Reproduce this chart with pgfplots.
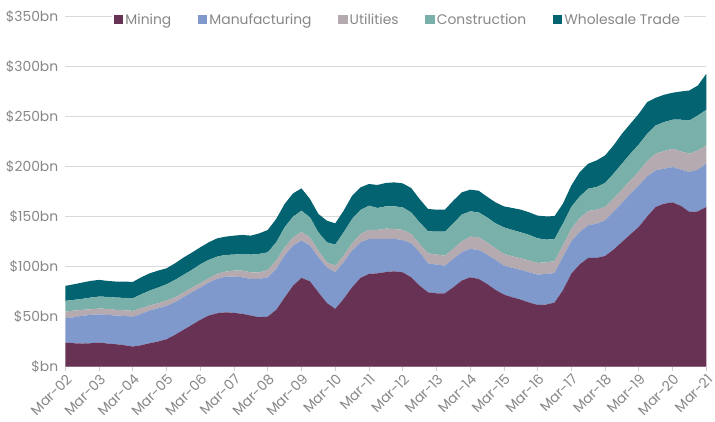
\documentclass[border=0pt]{standalone}
\usepackage{fontspec}
\setmainfont{Poppins}
\usepackage{pgfplots}
\usepackage{pgfplotstable}
\pgfplotsset{compat=1.18}

\definecolor{cMining}{RGB}{103,50,84}
\definecolor{cManuf}{RGB}{127,153,204}
\definecolor{cUtil}{RGB}{180,170,176}
\definecolor{cConstr}{RGB}{122,176,170}
\definecolor{cWhole}{RGB}{3,99,112}
\definecolor{txtgray}{RGB}{135,135,135}
\definecolor{gridgray}{RGB}{217,217,217}

% quarterly, q=0 is Mar-02, values in $bn
\pgfplotstableread{
q mining mfg util con ws
0 24.0 24.3 6.7 10.7 15.0
1 23.3 26.0 6.7 10.7 15.6
2 23.0 27.7 6.0 11.0 16.3
3 23.3 28.4 5.6 11.7 16.7
4 24.0 28.3 5.7 12.0 16.7
5 23.0 28.7 6.0 12.0 16.0
6 22.3 28.7 5.7 12.3 16.0
7 21.3 29.4 5.6 12.4 16.3
8 20.0 29.7 6.0 12.6 16.4
9 21.3 31.4 5.6 14.0 17.0
10 23.3 32.7 5.0 15.0 17.3
11 25.0 33.3 5.0 15.7 17.0
12 27.3 33.4 5.3 16.3 16.0
13 31.7 32.6 5.0 17.4 16.6
14 36.7 32.6 4.7 17.7 17.3
15 41.7 32.6 4.7 17.7 17.3
16 46.7 32.3 4.3 19.0 17.0
17 51.0 33.0 4.3 18.4 17.6
18 53.3 34.4 5.0 17.3 18.3
19 54.3 35.7 5.0 16.7 18.3
20 53.7 36.3 6.0 16.0 19.0
21 52.7 36.6 6.7 16.7 19.0
22 51.0 36.7 6.6 17.7 19.0
23 49.3 38.4 6.6 18.4 20.6
24 50.0 39.3 7.4 17.6 22.4
25 56.7 41.0 8.3 18.3 23.4
26 69.0 42.0 8.3 20.0 23.4
27 81.0 40.0 8.3 20.7 23.3
28 88.7 37.3 8.7 21.3 22.3
29 85.3 35.7 8.3 20.0 18.4
30 74.3 35.0 6.7 18.3 18.4
31 63.7 35.6 5.0 20.0 21.7
32 57.7 36.6 6.7 21.0 21.3
33 67.7 36.6 6.7 23.3 21.7
34 79.3 36.7 7.3 24.4 23.3
35 88.7 35.6 8.4 24.0 22.6
36 92.7 35.0 9.0 24.3 21.7
37 93.3 34.4 9.0 22.0 23.0
38 94.5 33.2 10.3 22.3 23.4
39 95.3 32.4 10.0 22.6 24.0
40 94.3 32.4 10.0 22.6 24.0
41 89.3 34.0 9.4 21.6 24.4
42 81.0 33.3 8.4 21.6 23.4
43 74.3 29.0 10.0 22.0 22.4
44 73.3 28.7 10.0 23.0 22.0
45 73.3 27.7 10.0 24.0 22.0
46 79.3 28.4 10.0 25.6 22.7
47 86.0 28.3 11.0 26.7 22.3
48 89.3 28.4 12.3 25.3 21.7
49 87.7 29.0 12.6 25.0 21.7
50 82.7 29.3 12.3 25.0 20.7
51 76.7 30.0 11.6 25.0 21.0
52 72.0 29.0 11.7 26.6 21.0
53 69.3 29.4 11.6 26.4 22.0
54 67.0 29.7 11.6 26.0 22.7
55 64.0 30.3 11.7 25.7 22.6
56 61.7 30.3 11.7 24.6 22.7
57 62.0 30.7 11.6 22.7 23.3
58 64.0 29.5 12.0 22.0 23.0
59 76.3 33.4 11.6 21.7 20.0
60 93.0 32.3 12.7 21.7 21.6
61 102.3 32.4 14.0 21.6 24.4
62 108.7 32.6 14.4 22.3 25.0
63 108.7 34.3 14.0 22.7 26.6
64 110.7 35.6 13.4 24.0 27.6
65 117.0 37.7 13.3 25.0 28.3
66 124.7 39.0 13.3 26.0 30.0
67 132.3 40.7 13.3 26.7 30.0
68 139.7 41.6 14.0 27.0 30.7
69 150.3 40.0 15.4 27.3 31.7
70 159.7 36.6 16.7 28.3 27.7
71 163.0 35.0 17.7 29.0 27.3
72 164.3 35.4 18.3 29.0 27.0
73 160.7 36.3 18.3 31.7 28.3
74 154.7 40.0 18.3 33.3 30.0
75 155.3 41.7 19.3 35.0 30.0
76 159.7 43.3 18.3 35.7 36.0
}\sectors

\begin{document}
\begin{tikzpicture}
\begin{axis}[
  scale only axis,
  width=647bp, height=353bp,
  xmin=0, xmax=76, ymin=0, ymax=350,
  stack plots=y,
  axis x line*=bottom, axis y line*=left,
  y axis line style={draw=none},
  x axis line style={-, draw=gridgray!80!black!60, line width=0.8pt},
  xtick={0,4,...,76},
  xticklabels={Mar-02,Mar-03,Mar-04,Mar-05,Mar-06,Mar-07,Mar-08,Mar-09,Mar-10,Mar-11,Mar-12,Mar-13,Mar-14,Mar-15,Mar-16,Mar-17,Mar-18,Mar-19,Mar-20,Mar-21},
  x tick label style={rotate=45, anchor=north east, inner sep=1bp},
  xtick style={draw=gridgray!80!black!60, line width=0.8pt},
  tick align=outside, major tick length=5bp,
  ytick={0,50,...,350},
  yticklabels={\$bn,\$50bn,\$100bn,\$150bn,\$200bn,\$250bn,\$300bn,\$350bn},
  ytick style={draw=none},
  y tick label style={inner sep=2bp},
  ymajorgrids,
  grid style={gridgray, line width=0.8pt},
  tick label style={font=\fontsize{14bp}{16bp}\selectfont, text=txtgray},
  legend columns=-1,
  legend style={at={(0.519,0.992)}, anchor=center, draw=none, fill=white,
    font=\fontsize{14bp}{16bp}\selectfont, text=txtgray, inner sep=2bp,
    /tikz/every even column/.append style={column sep=25bp}},
  legend image code/.code={\fill[#1] (0bp,-4.5bp) rectangle (9.5bp,5bp);},
]
\addplot[fill=cMining, draw=none] table[x=q, y=mining] {\sectors} \closedcycle;
\addplot[fill=cManuf, draw=none] table[x=q, y=mfg] {\sectors} \closedcycle;
\addplot[fill=cUtil, draw=none] table[x=q, y=util] {\sectors} \closedcycle;
\addplot[fill=cConstr, draw=none] table[x=q, y=con] {\sectors} \closedcycle;
\addplot[fill=cWhole, draw=none] table[x=q, y=ws] {\sectors} \closedcycle;
\legend{Mining, Manufacturing, Utilities, Construction, Wholesale Trade}
\end{axis}
\path (current axis.south west) ++(-66bp,-56bp) coordinate (bl);
\path (current axis.north east) ++(2bp,17bp) coordinate (tr);
\path (bl) rectangle (tr);
\end{tikzpicture}
\end{document}
